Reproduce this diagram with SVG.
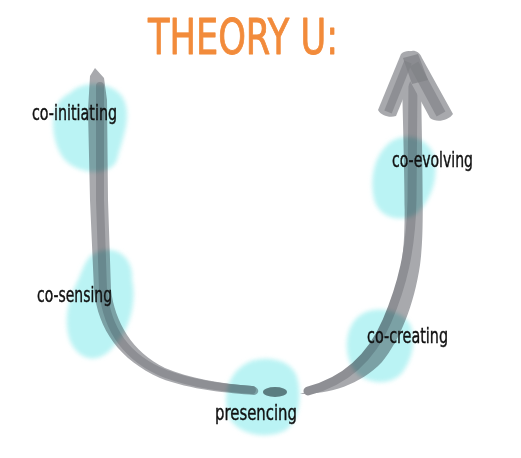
<svg xmlns="http://www.w3.org/2000/svg" width="521" height="458" viewBox="0 0 521 458">
<defs>
<filter id="soft" x="-20%" y="-20%" width="140%" height="140%"><feGaussianBlur stdDeviation="2.2"/></filter>
</defs>
<style>
.outer{fill:none;stroke:#a8a9ad;stroke-linejoin:round}
.inner{fill:none;stroke:#8e8f94;stroke-linejoin:round}
.blob{fill:#aef1f2;opacity:0.85;mix-blend-mode:multiply;filter:url(#soft)}
.lbl{font-family:"Liberation Sans Narrow","DejaVu Sans Condensed",sans-serif;font-size:21px;fill:#111;stroke:#111;stroke-width:0.4}
.title{font-family:"Liberation Sans Narrow","DejaVu Sans Condensed",sans-serif;font-size:50px;fill:#f28b3b;stroke:#f28b3b;stroke-width:0.9;stroke-linejoin:round}
</style>
<rect width="521" height="458" fill="#fff"/>
<g id="title"><text class="title" x="148" y="54" textLength="190" lengthAdjust="spacingAndGlyphs">THEORY U:</text></g>
<g id="connectors">
<path d="M95 68 L90 76 L88 110 L90 200 L94 290 C98 330 120 360 160 378 C190 390 230 393 254 395 C260 394 260 387 252 386 C222 384 188 378 165 368 C132 352 115 322 111 290 L108 200 L107 100 L104 78 Z" fill="#a8a9ad"/>
<path class="inner" stroke-width="8" stroke-linecap="round" d="M100 86 L100 200 L103 290 C107 330 126 358 166 374 C196 385 226 388 252 390"/>
<ellipse cx="275" cy="392" rx="12" ry="5" fill="#7d8387"/>
<path d="M300 394 C330 384 352 372 368 352 C384 330 396 300 402 260 C406 230 405 200 402 80 L421 80 C423 200 424 235 420 265 C414 305 400 340 382 362 C360 385 330 394 300 394 Z" fill="#a8a9ad"/>
<path class="inner" stroke-width="9" stroke-linecap="round" d="M308 391 C347 381 372 356 387 321 C402 286 411 251 412 200 L413 80"/>
<path d="M378 110 L401 54 C408 48 418 52 419 60 L396 116 C390 118 381 116 378 110 Z" fill="#a8a9ad"/>
<path d="M402 60 C407 48 418 48 422 58 L453 114 C448 121 436 123 430 118 L402 66 Z" fill="#a8a9ad"/>
<path class="inner" stroke-width="8" stroke-linecap="butt" d="M388 112 L408 62"/>
<path class="inner" stroke-width="10" stroke-linecap="butt" d="M414 64 L441 114"/>
<path d="M403 58 L418 54 L428 80 L412 84 Z" fill="#7f8085" opacity="0.7"/>
</g>
<g id="co-initiating">
<path class="blob" d="M70 93 C85 78 117 83 124 100 C132 118 122 140 117 160 C110 177 80 174 67 162 C53 149 50 120 56 107 C60 99 64 96 70 93 Z"/>
<text class="lbl" x="32" y="120" textLength="85" lengthAdjust="spacingAndGlyphs">co-initiating</text>
</g>
<g id="co-sensing">
<path class="blob" d="M95 253 C116 243 134 258 132 280 C137 300 130 332 113 347 C100 364 79 362 70 341 C63 320 68 300 78 280 C84 266 87 256 95 253 Z"/>
<text class="lbl" x="37" y="302" textLength="75" lengthAdjust="spacingAndGlyphs">co-sensing</text>
</g>
<g id="presencing">
<path class="blob" d="M245 364 C262 354 291 358 297 377 C302 396 300 419 286 430 C268 440 239 435 230 419 C223 403 224 377 245 364 Z"/>
<text class="lbl" x="215" y="420" textLength="82" lengthAdjust="spacingAndGlyphs">presencing</text>
</g>
<g id="co-creating">
<path class="blob" d="M359 316 C375 304 401 310 410 324 C417 340 412 361 401 374 C388 387 364 384 353 369 C343 352 345 327 359 316 Z"/>
<text class="lbl" x="367" y="343" textLength="81" lengthAdjust="spacingAndGlyphs">co-creating</text>
</g>
<g id="co-evolving">
<path class="blob" d="M389 143 C405 130 432 138 435 160 C438 181 430 202 416 214 C400 224 378 217 374 199 C370 180 373 157 389 143 Z"/>
<text class="lbl" x="392" y="167" textLength="81" lengthAdjust="spacingAndGlyphs">co-evolving</text>
</g>
</svg>
